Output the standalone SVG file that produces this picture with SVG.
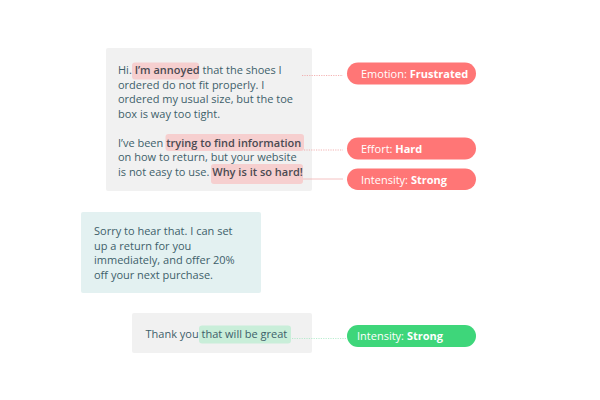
<svg xmlns="http://www.w3.org/2000/svg" width="600" height="400" viewBox="0 0 600 400">
<style>
.t{font-family:"Open Sans","Noto Sans",sans-serif;font-size:11px;fill:#3e5f6a}
.b{font-weight:600;fill:#4a4a52}
.lt{font-family:"Open Sans","Noto Sans",sans-serif;font-size:11px;fill:#ffffff}
.lb{font-weight:bold}
.hp{fill:#f6cfcf}
.hg{fill:#c9eed9}
.red{fill:#ff7676}
.grn{fill:#3ed67a}
.dot{stroke:#f0a0a0;stroke-width:0.8;stroke-dasharray:1.2 1.2;fill:none}
.sol{stroke:#f3b3b3;stroke-width:0.8;fill:none}
.gl{stroke:#a8e8c4;stroke-width:0.8;fill:none}
</style>
<rect width="600" height="400" fill="#ffffff"/>
<g id="msg1">
<rect x="106" y="48" width="206" height="143" rx="2" fill="#f1f1f1"/>
<rect class="hp" x="132" y="62.5" width="67" height="17" rx="3"/>
<rect class="hp" x="165.5" y="134" width="138.5" height="17" rx="3"/>
<rect class="hp" x="211" y="164" width="92" height="20" rx="3"/>
<text class="t" x="118" y="74">Hi. <tspan class="b">I’m annoyed</tspan> that the shoes I</text>
<text class="t" x="118" y="88.5">ordered do not fit properly. I</text>
<text class="t" x="118" y="103">ordered my usual size, but the toe</text>
<text class="t" x="118" y="117.5">box is way too tight.</text>
<text class="t" x="118" y="146.5">I’ve been <tspan class="b">trying to find information</tspan></text>
<text class="t" x="118" y="161">on how to return, but your website</text>
<text class="t" x="118" y="175.5">is not easy to use. <tspan class="b">Why is it so hard!</tspan></text>
</g>
<g id="msg2">
<rect x="81" y="212" width="180" height="81" rx="2" fill="#e3f1f1"/>
<text class="t" x="94" y="234.5">Sorry to hear that. I can set</text>
<text class="t" x="94" y="249.5">up a return for you</text>
<text class="t" x="94" y="264">immediately, and offer 20%</text>
<text class="t" x="94" y="279">off your next purchase.</text>
</g>
<g id="msg3">
<rect x="132" y="313" width="180" height="40" rx="2" fill="#f1f1f1"/>
<rect class="hg" x="199" y="325.5" width="92" height="18" rx="3"/>
<text class="t" x="145.5" y="337.5">Thank you <tspan>that will be great</tspan></text>
</g>
<g id="connectors">
<path class="dot" d="M302 75.5 H343"/>
<path class="dot" d="M304 150 H343"/>
<path class="sol" d="M303 179 H343"/>
<path class="gl" d="M292 338.5 H347" stroke-dasharray="1.2 1.2"/>
</g>
<g id="label-emotion">
<rect class="red" x="347" y="62.5" width="129" height="22" rx="11"/>
<text class="lt" x="361" y="77.5">Emotion: <tspan class="lb">Frustrated</tspan></text>
</g>
<g id="label-effort">
<rect class="red" x="347" y="137.5" width="129" height="22" rx="11"/>
<text class="lt" x="361" y="152.5">Effort: <tspan class="lb">Hard</tspan></text>
</g>
<g id="label-intensity">
<rect class="red" x="347" y="168.5" width="129" height="21.5" rx="10.75"/>
<text class="lt" x="361" y="183.5">Intensity: <tspan class="lb">Strong</tspan></text>
</g>
<g id="label-intensity-green">
<rect class="grn" x="347" y="325" width="129" height="22" rx="11"/>
<text class="lt" x="357" y="340">Intensity: <tspan class="lb">Strong</tspan></text>
</g>
</svg>
